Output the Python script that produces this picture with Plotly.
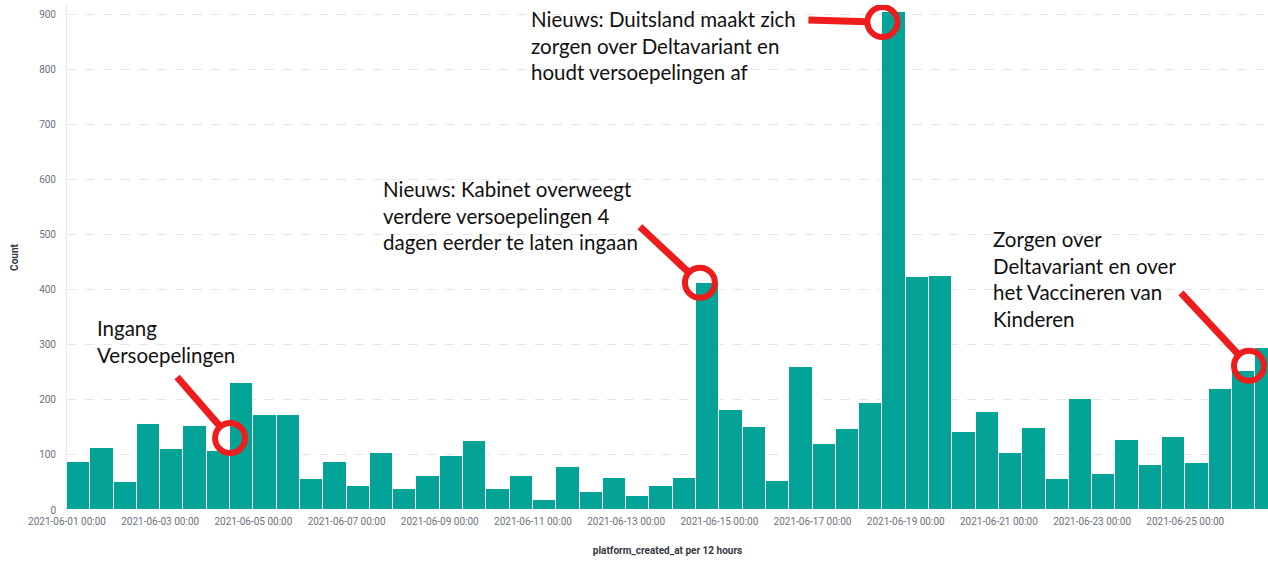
"""Tweets per 12 hours, June 2021, with news callouts."""
import math

import pandas as pd
import plotly.graph_objects as go

# data
START = "2021-06-01 00:00"
PERIOD_HOURS = 12
counts = [
    87, 112, 50, 156, 110, 153, 107, 230, 173, 172,
    56, 88, 43, 104, 39, 62, 99, 125, 38, 62,
    19, 79, 33, 58, 25, 44, 58, 412, 181, 151,
    52, 260, 120, 148, 194, 905, 424, 426, 141, 178,
    104, 149, 57, 202, 65, 127, 81, 133, 85, 220,
    253, 295,
]
tick_dates = pd.date_range("2021-06-01", "2021-06-25", freq="2D")

callout_texts = [
    "Ingang<br>Versoepelingen",
    "Nieuws: Kabinet overweegt<br>verdere versoepelingen 4<br>dagen eerder te laten ingaan",
    "Nieuws: Duitsland maakt zich<br>zorgen over Deltavariant en<br>houdt versoepelingen af",
    "Zorgen over<br>Deltavariant en over<br>het Vaccineren van<br>Kinderen",
]
callout_times = ["2021-06-04 12:00", "2021-06-14 14:00", "2021-06-18 12:00", "2021-06-26 08:48"]
callout_values = [131, 413, 887, 262]

# layout / style
W, H = 1268, 561
M = {"l": 67, "r": 0, "t": 5, "b": 51}
TEAL = "#03a398"
RED = "#ee1c1c"
TICK = "#6b7280"
text_pos = [(95, 342), (381, 215), (529, 46), (991, 279)]   # left x, middle y (px)
tails = [(-53, 61), (-60, 56), (-74, 2), (-68, 73)]        # line start, px from circle
RADIUS = 15


def px_to_paper(x, y):
    pw = W - M["l"] - M["r"]
    ph = H - M["t"] - M["b"]
    return (x - M["l"]) / pw, (H - M["b"] - y) / ph


starts = pd.date_range(START, periods=len(counts), freq=f"{PERIOD_HOURS}h")
centers = starts + pd.Timedelta(hours=PERIOD_HOURS / 2)
x_end = pd.Timestamp(START) + pd.Timedelta(hours=618.6)

fig = go.Figure(go.Bar(
    x=centers,
    y=counts,
    width=PERIOD_HOURS * 3600 * 1000,
    marker={"color": TEAL, "line": {"color": "white", "width": 1}},
    hovertemplate="%{x}<br>Count: %{y}<extra></extra>",
))

shapes = []
annotations = []
for text, (tx, ty), t, v, (dx, dy) in zip(callout_texts, text_pos, callout_times,
                                          callout_values, tails):
    px, py = px_to_paper(tx, ty)
    annotations.append({
        "text": text, "x": px, "y": py, "xref": "paper", "yref": "paper",
        "xanchor": "left", "yanchor": "middle", "align": "left", "showarrow": False,
        "font": {"family": "Lato, sans-serif", "size": 20.5, "color": "#111111"},
    })
    n = math.hypot(dx, dy)
    shapes.append({
        "type": "line", "xref": "x", "yref": "y",
        "xsizemode": "pixel", "ysizemode": "pixel", "xanchor": t, "yanchor": v,
        "x0": dx, "y0": dy, "x1": dx / n * RADIUS, "y1": dy / n * RADIUS,
        "line": {"color": RED, "width": 7},
    })
    shapes.append({
        "type": "circle", "xref": "x", "yref": "y",
        "xsizemode": "pixel", "ysizemode": "pixel", "xanchor": t, "yanchor": v,
        "x0": -RADIUS, "x1": RADIUS, "y0": -RADIUS, "y1": RADIUS,
        "line": {"color": RED, "width": 6},
    })

fig.update_layout(
    width=W, height=H,
    margin=M,
    paper_bgcolor="white",
    plot_bgcolor="white",
    bargap=0,
    showlegend=False,
    font={"family": "Roboto, sans-serif", "color": TICK, "size": 10},
    shapes=shapes,
    annotations=annotations,
    xaxis={
        "range": [pd.Timestamp(START), x_end],
        "tickvals": tick_dates,
        "tickformat": "%Y-%m-%d %H:%M",
        "showgrid": False,
        "ticks": "outside", "ticklen": 2, "tickcolor": "rgba(0,0,0,0)",
        "tickfont": {"size": 10, "color": TICK},
        "title": {"text": "<b>platform_created_at per 12 hours</b>", "standoff": 20,
                  "font": {"size": 10, "color": "#343741"}},
        "automargin": False,
    },
    yaxis={
        "range": [0, 918],
        "tickvals": list(range(0, 901, 100)),
        "showgrid": True, "gridcolor": "#e6e6e6", "griddash": "dash",
        "showline": True, "linecolor": "#e9e9e9", "linewidth": 1,
        "zeroline": False,
        "ticks": "outside", "ticklen": 8, "tickcolor": "rgba(0,0,0,0)",
        "tickfont": {"size": 10, "color": TICK},
        "title": {"text": "<b>Count</b>", "standoff": 18,
                  "font": {"size": 10, "color": "#343741"}},
        "automargin": False,
    },
)

fig.write_html("out.html", config={"displayModeBar": False},
               post_script="document.body.style.margin='0';")
